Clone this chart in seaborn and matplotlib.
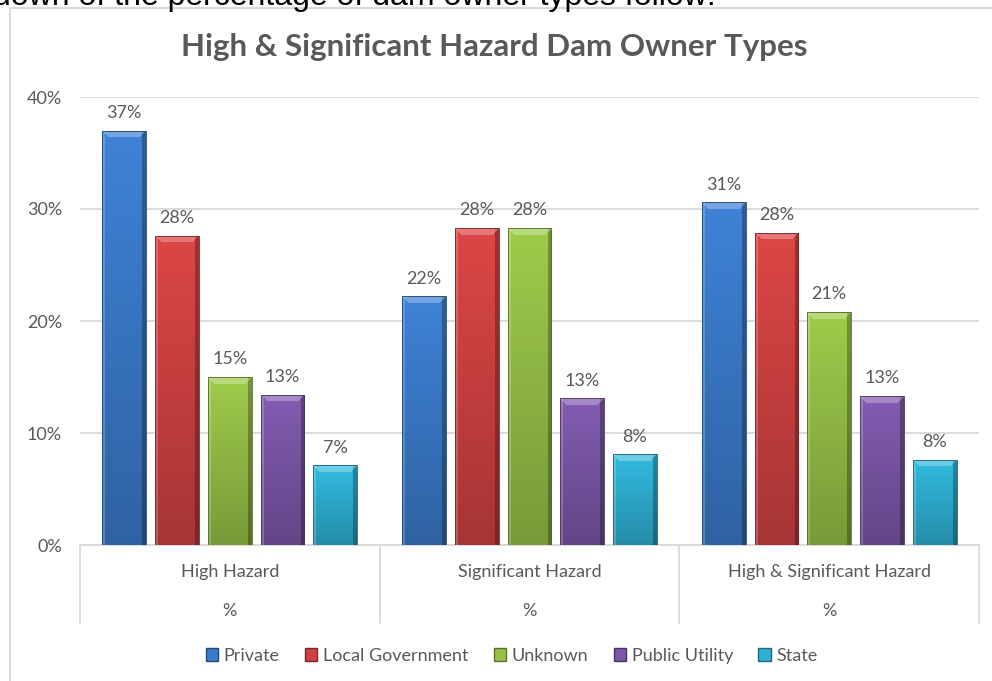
import numpy as np
import pandas as pd
import seaborn as sns
import matplotlib.pyplot as plt
from matplotlib.colors import to_rgb
from matplotlib.patches import Rectangle

hazard_classes = ["High Hazard", "Significant Hazard", "High & Significant Hazard"]
owner_types = ["Private", "Local Government", "Unknown", "Public Utility", "State"]
private = [37.0, 22.2, 30.6]
local_government = [27.6, 28.3, 27.9]
unknown = [15.0, 28.3, 20.8]
public_utility = [13.4, 13.1, 13.3]
state = [7.1, 8.1, 7.6]
yticks = [0, 10, 20, 30, 40]

owner_colors = ["#3B7BCB", "#D04242", "#96C047", "#7B57A8", "#2FB0D3"]
grey_text = "#595959"
grid_grey = "#D9D9D9"
FS = 13

df = pd.DataFrame({
    "hazard": hazard_classes * 5,
    "owner": np.repeat(owner_types, 3),
    "pct": private + local_government + unknown + public_utility + state,
})

sns.set_style("white")
plt.rcParams["font.family"] = ["Lato", "DejaVu Sans"]

fig = plt.figure(figsize=(9.92, 6.81), dpi=100)
ax = fig.add_axes([80 / 992, 1 - 545 / 681, 899 / 992, 448 / 681])

sns.barplot(data=df, x="hazard", y="pct", hue="owner", order=hazard_classes,
            hue_order=owner_types, palette=owner_colors, width=0.88, gap=0.17,
            ax=ax, legend=True, zorder=3)

ax.set_ylim(0, 40)
ax.set_xlim(-0.5, 2.5)

# bevel / gradient look on every bar
px_per_unit = 448 / 40
for container, base in zip(ax.containers, owner_colors):
    rgb = np.array(to_rgb(base))
    for patch in container.patches:
        x0, y0 = patch.get_x(), patch.get_y()
        w, h = patch.get_width(), patch.get_height()
        rows = max(int(h * px_per_unit), 4)
        cols = 44
        vert = np.linspace(1.06, 0.80, rows)[:, None]
        img = np.ones((rows, cols, 3)) * rgb[None, None, :] * vert[:, :, None]
        img[:, :3] = img[:, :3] * 0.8 + 0.2
        img[:, -4:] *= 0.72
        for r in range(min(7, rows)):
            img[r, r:cols - r] = img[r, r:cols - r] * 0.72 + 0.28
        img = np.clip(img, 0, 1)
        im = ax.imshow(img, extent=(x0, x0 + w, y0, y0 + h), origin="upper",
                       aspect="auto", interpolation="bilinear", zorder=3)
        im.set_clip_path(patch)
        patch.set_facecolor("none")
        patch.set_edgecolor(tuple(rgb * 0.55))
        patch.set_linewidth(0.6)
        patch.set_zorder(4)
    ax.bar_label(container, labels=[f"{round(v)}%" for v in container.datavalues],
                 padding=7, fontsize=FS, color=grey_text)

ax.set_ylim(0, 40)
ax.set_xlim(-0.5, 2.5)

ax.set_yticks(yticks)
ax.set_yticklabels([f"{t}%" for t in yticks])
ax.tick_params(axis="y", length=0, pad=13, labelsize=FS, labelcolor=grey_text)
ax.yaxis.grid(True, color=grid_grey, linewidth=1.3)
ax.set_axisbelow(True)
for name, spine in ax.spines.items():
    spine.set_visible(name == "bottom")
ax.spines["bottom"].set_color(grid_grey)
ax.spines["bottom"].set_linewidth(1.3)

ax.set_xticks([])
ax.set_xlabel("")
ax.set_ylabel("")
for i, name in enumerate(hazard_classes):
    ax.text((i + 0.5) / 3, -0.06, name, transform=ax.transAxes, ha="center",
            va="center", fontsize=FS, color=grey_text)
    ax.text((i + 0.5) / 3, -0.147, "%", transform=ax.transAxes, ha="center",
            va="center", fontsize=FS, color=grey_text)
for i in range(4):
    ax.plot([i / 3, i / 3], [0, -0.174], transform=ax.transAxes, color=grid_grey,
            linewidth=1.3, clip_on=False)

handles, labels = ax.get_legend_handles_labels()
for hnd, c in zip(handles, owner_colors):
    hnd.set_facecolor(c)
    hnd.set_edgecolor(tuple(np.array(to_rgb(c)) * 0.6))
ax.legend(handles, labels, loc="center", bbox_to_anchor=(0.48, -0.247), ncol=5,
          frameon=False, handlelength=0.7, handleheight=0.7, columnspacing=1.4,
          handletextpad=0.3, fontsize=FS, labelcolor=grey_text)

fig.text(0.498, 1 - 47 / 681, "High & Significant Hazard Dam Owner Types",
         ha="center", va="center", fontsize=22.5, fontweight="bold", color=grey_text)

# leftover line of document text above the chart, clipped by the image edge
fig.text(-0.007, 1 - 5 / 681, "down of the percentage of dam owner types follow:",
         ha="left", va="baseline", fontsize=23, family="Liberation Sans", color="black")

fig.patches.append(Rectangle((10 / 992, -0.05), 1.2, 1.05 - 8 / 681,
                             transform=fig.transFigure, fill=False,
                             edgecolor=grid_grey, linewidth=1.5))

fig.savefig("out.png", dpi=100)
